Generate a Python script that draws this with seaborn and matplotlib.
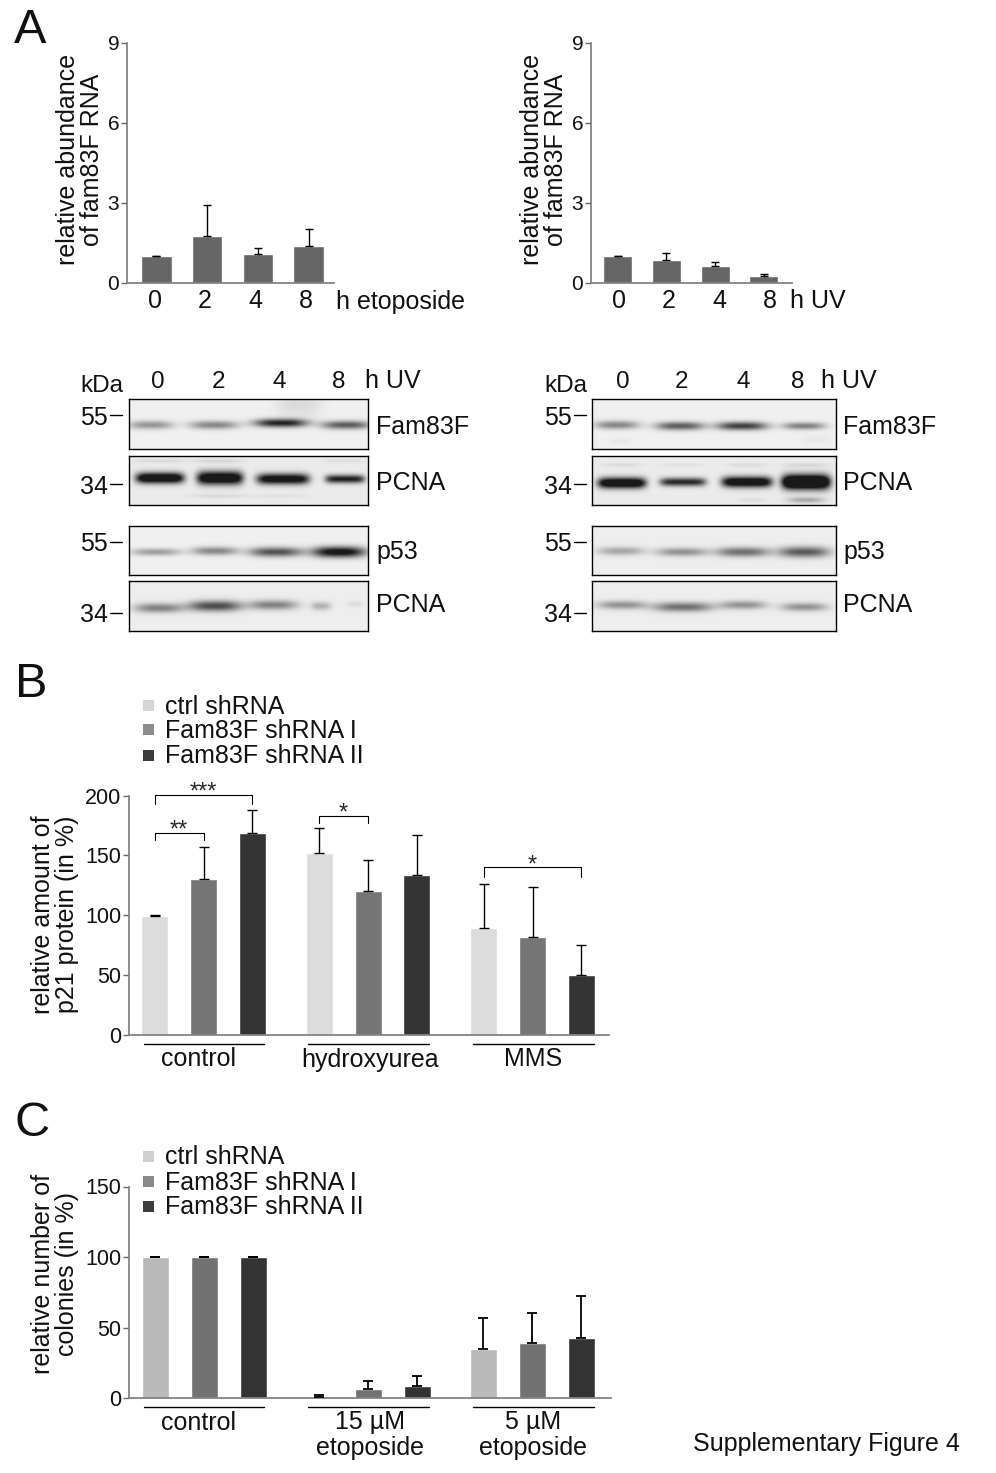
import matplotlib
matplotlib.use("Agg")
import matplotlib.pyplot as plt
from matplotlib.lines import Line2D
from matplotlib.patches import Rectangle
import numpy as np
import pandas as pd
import seaborn as sns

W, H = 996, 1473

# panel A, RNA levels
hours = ["0", "2", "4", "8"]
etoposide_rna = [1.0, 1.77, 1.07, 1.4]
etoposide_top = [1.02, 2.92, 1.3, 2.03]
uv_rna = [1.0, 0.87, 0.65, 0.28]
uv_top = [1.03, 1.12, 0.77, 0.33]

# panel B, p21 protein
shrna = ["ctrl shRNA", "Fam83F shRNA I", "Fam83F shRNA II"]
p21_groups = ["control", "hydroxyurea", "MMS"]
p21_ctrl = [99.5, 152, 89]
p21_one = [130, 120, 81.5]
p21_two = [169, 134, 50]
p21_ctrl_top = [100, 173, 126]
p21_one_top = [157, 146.5, 124]
p21_two_top = [188, 167, 75.5]
# group, first bar, last bar, bracket top, leg end, stars
p21_brackets = [
    (0, 0, 2, 200.5, 193, "***"),
    (0, 0, 1, 169, 163, "**"),
    (1, 0, 1, 183, 177, "*"),
    (2, 0, 2, 140, 132, "*"),
]

# panel C, colonies
colony_groups = ["control", "15 µM\netoposide", "5 µM\netoposide"]
colony_ctrl = [100, 1, 35]
colony_one = [100, 6.5, 39]
colony_two = [100, 8.5, 42.5]
colony_ctrl_top = [100, 2, 57]
colony_one_top = [100, 12, 60]
colony_two_top = [100, 15.5, 72]

# blots: lane strength per antibody, left and right membrane
fam83f_left = [0.42, 0.48, 0.95, 0.68]
pcna_top_left = [1.3, 1.3, 1.15, 0.95]
p53_left = [0.38, 0.48, 0.72, 1.1]
pcna_low_left = [0.5, 0.75, 0.5, 0.28, 0.08]
fam83f_right = [0.48, 0.68, 0.82, 0.52]
pcna_top_right = [1.3, 0.9, 1.25, 1.7]
p53_right = [0.33, 0.42, 0.58, 0.68]
pcna_low_right = [0.42, 0.58, 0.42, 0.42]

sns.set_theme(style="ticks")
plt.rcParams["font.family"] = ["Liberation Sans", "DejaVu Sans"]
plt.rcParams["axes.edgecolor"] = "#808080"

fig = plt.figure(figsize=(W / 100, H / 100), dpi=100)


def px_axes(left, top, right, bottom):
    return fig.add_axes([left / W, 1 - bottom / H, (right - left) / W, (bottom - top) / H])


def px_text(x, y, s, size=18, ha="center", va="center", **kw):
    fig.text(x / W, 1 - (y + 1.5) / H, s, fontsize=size, ha=ha, va=va, color="#111111", **kw)


def px_line(x0, x1, y0, y1, lw=1.0, color="black"):
    fig.add_artist(Line2D([x0 / W, x1 / W], [1 - y0 / H, 1 - y1 / H], lw=lw, color=color))


def add_errors(ax, bars, tops, lw=1.0, capsize=3.5):
    for bar, top in zip(bars, tops):
        x = bar.get_x() + bar.get_width() / 2
        h = bar.get_height()
        ax.errorbar(x, h, yerr=[[0], [top - h]], color="black", lw=lw, capsize=capsize,
                    capthick=lw, fmt="none", zorder=5)


def style_axes(ax, yticks, ylim, tick_size):
    ax.set_ylim(*ylim)
    ax.set_yticks(yticks)
    ax.set_ylabel("")
    ax.set_xlabel("")
    ax.tick_params(axis="y", length=4.5, width=1, color="#666666", labelsize=tick_size, pad=1,
                   labelcolor="#111111")
    ax.tick_params(axis="x", length=0)
    sns.despine(ax=ax)
    ax.set_facecolor("none")


def rna_panel(rect, values, tops, xlim, bar_width, ylabel_x, unit, unit_x, label_x):
    ax = px_axes(*rect)
    sns.barplot(x=hours, y=values, color="#666666", saturation=1, width=bar_width, errorbar=None, ax=ax)
    add_errors(ax, ax.containers[0], tops, capsize=3)
    style_axes(ax, [0, 3, 6, 9], (0, 9), 15)
    ax.set_xlim(*xlim)
    ax.set_xticks([])
    for lab, xp in zip(hours, label_x):
        px_text(xp, 300, lab)
    px_text(unit_x, 300, unit, ha="left")
    px_text(ylabel_x, 158, "relative abundance\nof fam83F RNA", rotation=90, linespacing=1.05)


rna_panel((127, 43, 334, 283), etoposide_rna, etoposide_top, (-0.58, 3.5), 0.6, 80,
          "h etoposide", 336, [155, 204.5, 255, 306])
rna_panel((591, 43, 792, 283), uv_rna, uv_top, (-0.55, 3.58), 0.6, 544,
          "h UV", 790, [619, 669, 719, 770])


def blot(rect, centers, half_widths, rows, sigmas, strengths, background=0.94, faint=None, sharp=3):
    # paint each lane as a soft band on a pixel grid, heatmap draws it
    left, top, right, bottom = rect
    nx, ny = int(right - left), int(bottom - top)
    xx, yy = np.meshgrid(np.arange(nx) + 0.5, np.arange(ny) + 0.5)
    dark = np.zeros((ny, nx))
    for c, hw, r, sg, st in zip(centers, half_widths, rows, sigmas, strengths):
        dark += st * np.exp(-np.abs((xx - c) / (hw * 1.1)) ** sharp) * np.exp(-((yy - r) / (sg * 1.2)) ** 2)
    for c, hw, r, sg, st in faint or []:
        dark += st * np.exp(-np.abs((xx - c) / hw) ** 3) * np.exp(-((yy - r) / sg) ** 2)
    grey = background - 0.85 * dark
    ax = px_axes(*rect)
    sns.heatmap(np.clip(grey, 0.1, 1), vmin=0, vmax=1, cmap="gray", cbar=False,
                xticklabels=False, yticklabels=False, rasterized=True, ax=ax)
    for side in ["left", "right", "top", "bottom"]:
        ax.spines[side].set_visible(True)
        ax.spines[side].set_color("black")
        ax.spines[side].set_linewidth(1.0)


lx = (129, 368)
rx = (592, 836)
rows = [(399, 449), (456, 505), (526, 575), (581, 631)]

blot((lx[0], rows[0][0], lx[1], rows[0][1]), [22, 85, 152, 217], [20, 22, 24, 22], [26, 26, 24, 26],
     [3.5, 3.5, 3.5, 3.5], fam83f_left, faint=[(170, 22, 5, 14, 0.1)])
blot((lx[0], rows[1][0], lx[1], rows[1][1]), [31, 91, 154, 216], [22, 21, 24, 18], [22, 22, 23, 23],
     [4.5, 5.5, 4.5, 3.5], pcna_top_left, background=0.92, sharp=6,
     faint=[(30, 25, 5, 2, 0.08), (90, 25, 5, 2, 0.1), (215, 20, 5, 2, 0.06), (90, 28, 40, 2, 0.08),
            (150, 28, 40, 2, 0.05)])
blot((lx[0], rows[2][0], lx[1], rows[2][1]), [27, 86, 147, 210], [22, 21, 24, 24], [26, 25, 26, 26],
     [3, 3.5, 4, 4.5], p53_left)
blot((lx[0], rows[3][0], lx[1], rows[3][1]), [30, 86, 144, 192, 226], [22, 24, 22, 9, 7], [27, 25, 24, 25, 23],
     [4, 4.5, 4, 3.5, 2.5], pcna_low_left, background=0.93)

blot((rx[0], rows[0][0], rx[1], rows[0][1]), [25, 88, 150, 212], [20, 22, 23, 19], [26, 27, 27, 27],
     [3.5, 3.5, 3.5, 3], fam83f_right, faint=[(28, 12, 42, 3, 0.04), (225, 14, 40, 4, 0.04)])
blot((rx[0], rows[1][0], rx[1], rows[1][1]), [30, 91, 155, 214], [22, 21, 23, 22], [27, 26, 26, 26],
     [4.5, 3.5, 4.5, 6], pcna_top_right, background=0.92, sharp=6,
     faint=[(30, 20, 9, 2, 0.07), (91, 20, 9, 2, 0.05), (155, 20, 9, 2, 0.07), (214, 22, 9, 2, 0.09),
            (214, 18, 44, 3, 0.3), (160, 14, 44, 2, 0.06)])
blot((rx[0], rows[2][0], rx[1], rows[2][1]), [29, 90, 151, 212], [21, 23, 24, 23], [25, 26, 26, 26],
     [3.5, 3.5, 4, 4.5], p53_right, background=0.93)
blot((rx[0], rows[3][0], rx[1], rows[3][1]), [30, 91, 151, 212], [22, 27, 21, 21], [24, 26, 24, 26],
     [3.5, 4, 3.5, 3.5], pcna_low_right, background=0.93)

# blot labels
for x0, marks in [(80, [158, 218, 279, 339]), (544, [623, 681, 743, 798])]:
    px_text(x0, 384, "kDa", ha="left", size=17.5)
    for m, lab in zip(marks, hours):
        px_text(m, 381, lab, size=17.5)
px_text(365, 380, "h UV", ha="left", size=18)
px_text(821, 380, "h UV", ha="left", size=18)

for x_lab, x0, x1, x_name in [(94, 110, 122, 376), (558, 574, 586, 843)]:
    for y_lab, y_tick, kda in [(416, 415, "55"), (485, 484, "34"), (543, 542, "55"), (614, 613, "34")]:
        px_text(x_lab, y_lab, kda, size=18)
        px_line(x0, x1, y_tick, y_tick)
    for y, name in [(425, "Fam83F"), (481, "PCNA"), (551, "p53"), (604, "PCNA")]:
        px_text(x_name, y, name, ha="left", size=18)


def group_panel(rect, groups, series, tops, colors, xlim, yticks, ylim, tick_size, width, gap, err_lw):
    df = pd.DataFrame({
        "group": groups * 3,
        "shrna": [s for s in shrna for _ in groups],
        "value": [v for vals in series for v in vals],
    })
    ax = px_axes(*rect)
    sns.barplot(data=df, x="group", y="value", hue="shrna", hue_order=shrna, palette=colors,
                saturation=1, width=width, gap=gap, errorbar=None, legend=False, ax=ax)
    for cont, top in zip(ax.containers, tops):
        add_errors(ax, cont, top, lw=err_lw)
    style_axes(ax, yticks, ylim, tick_size)
    ax.set_xlim(*xlim)
    ax.set_xticks([])
    return ax


def legend(y_rows, colors):
    for y, c, name in zip(y_rows, colors, shrna):
        fig.add_artist(Rectangle((143 / W, 1 - (y + 5.5) / H), 11 / W, 11 / H, color=c, lw=0,
                                 transform=fig.transFigure))
        px_text(165, y, name, ha="left")


# panel B
ax_b = group_panel((129, 795.5, 609, 1035), p21_groups, [p21_ctrl, p21_one, p21_two],
                   [p21_ctrl_top, p21_one_top, p21_two_top], ["#dcdcdc", "#757575", "#343434"],
                   (-0.453, 2.465), [0, 50, 100, 150, 200], (0, 200), 15.5, 0.888, 0.446, 1.0)
for group, a, b, top, leg, stars in p21_brackets:
    xa = ax_b.containers[a][group]
    xb = ax_b.containers[b][group]
    xa = xa.get_x() + xa.get_width() / 2
    xb = xb.get_x() + xb.get_width() / 2
    ax_b.plot([xa, xa, xb, xb], [leg, top, top, leg], color="black", lw=0.8, clip_on=False, zorder=6)
    ax_b.text((xa + xb) / 2, top - 7.5, stars, ha="center", va="bottom", fontsize=17, clip_on=False)
legend([705, 730, 755], ["#d5d5d5", "#8c8c8c", "#3c3c3c"])
for x0, x1 in [(144, 264), (308, 429), (473, 594)]:
    px_line(x0, x1, 1044, 1044)
for xc, name in zip([198, 370, 533], p21_groups):
    px_text(xc, 1058, name)

# panel C
group_panel((129, 1186.5, 611, 1398), colony_groups, [colony_ctrl, colony_one, colony_two],
            [colony_ctrl_top, colony_one_top, colony_two_top], ["#b9b9b9", "#727272", "#333333"],
            (-0.46, 2.48), [0, 50, 100, 150], (0, 150), 15.5, 0.896, 0.45, 1.3)
legend([1156, 1181, 1206], ["#cfcfcf", "#8a8a8a", "#3c3c3c"])
for x0, x1 in [(144, 264), (308, 429), (473, 594)]:
    px_line(x0, x1, 1407, 1407)
for xc, name in zip([198, 370, 533], colony_groups):
    for i, part in enumerate(name.split("\n")):
        px_text(xc, 1421 + 25 * i, part)

px_text(55, 913, "relative amount of\np21 protein (in %)", rotation=90, linespacing=1.05)
px_text(55, 1272, "relative number of\ncolonies (in %)", rotation=90, linespacing=1.05)

px_text(30, 29, "A", size=35)
px_text(31, 683, "B", size=35)
px_text(32, 1122, "C", size=35)
px_text(826, 1443, "Supplementary Figure 4", size=18)

fig.savefig("out.png", dpi=100)
